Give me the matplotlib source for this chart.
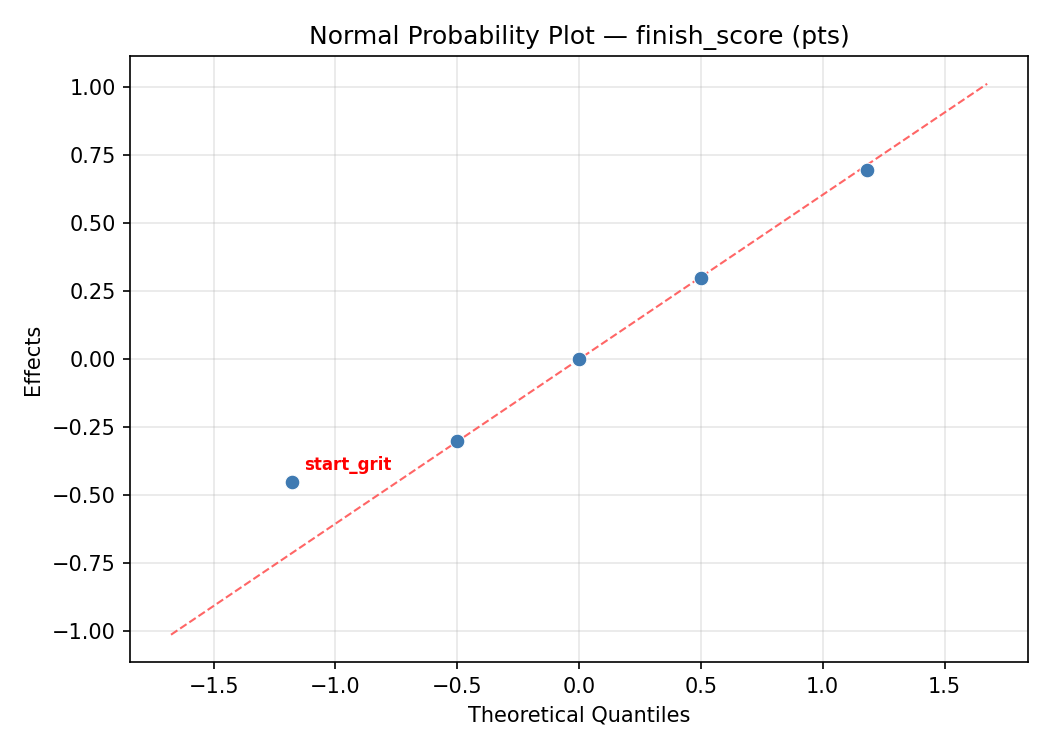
import matplotlib
matplotlib.use("Agg")
import matplotlib.pyplot as plt
import numpy as np

quantiles = [-1.18, -0.50, 0.00, 0.50, 1.18]
effects = [-0.452, -0.30, 0.00, 0.298, 0.698]
labels = ["start_grit", "", "", "", ""]
line_x = [-1.675, 1.675]
slope = 0.605

fig, ax = plt.subplots(figsize=(7, 5), dpi=150)
ax.plot(line_x, [slope * v for v in line_x], linestyle="--", color="#ff5555", alpha=0.9, linewidth=1.0, zorder=2)
ax.scatter(quantiles, effects, color="#3f7ab2", s=50, edgecolors="white", linewidths=0.5, zorder=3)
for q, e, lab in zip(quantiles, effects, labels):
    if lab:
        ax.annotate(lab, (q, e), xytext=(6, 6), textcoords="offset points",
                    color="red", fontsize=8, fontweight="bold")
ax.grid(True, alpha=0.3)
ax.set_xlabel("Theoretical Quantiles")
ax.set_ylabel("Effects")
ax.set_title("Normal Probability Plot — finish_score (pts)")
fig.subplots_adjust(left=0.124, right=0.979, top=0.925, bottom=0.117)
fig.savefig("out.png", dpi=150)
